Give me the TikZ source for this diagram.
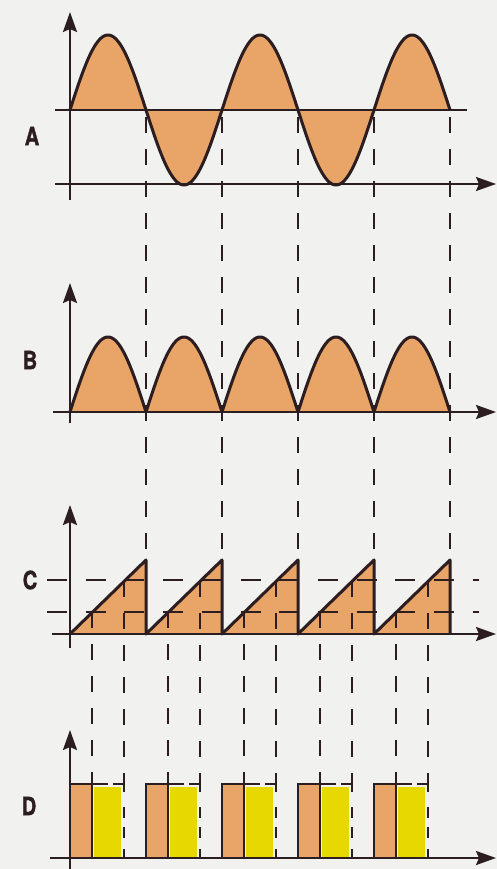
\documentclass[tikz,border=0pt]{standalone}
\usepackage{fontspec}
\newfontfamily\lab[BoldFeatures={FakeBold=1.6}]{TeX Gyre Heros}
\usetikzlibrary{arrows.meta}
\definecolor{bg}{HTML}{F1F1EF}
\definecolor{ink}{HTML}{2B1D20}
\definecolor{org}{HTML}{E9A467}
\definecolor{yel}{HTML}{E6D800}
\begin{document}
\begin{tikzpicture}[x=1pt,y=-1pt,
 axis/.style={ink, line width=2.2pt},
 arr/.style={axis, -{Stealth[length=20pt,width=14pt,inset=3pt]}},
 curve/.style={ink, line width=3pt, line join=round},
 guide/.style={ink, line width=1.3pt, dash pattern=on 16pt off 16pt},
 thr/.style={ink, line width=1.3pt, dash pattern=on 20pt off 18.7pt},
 boxline/.style={ink, line width=2.5pt},
 letter/.style={font=\lab\bfseries\fontsize{25}{25}\selectfont, text=ink, xscale=0.8, inner sep=0pt}]
\fill[bg] (0,0) rectangle (497,869);
\useasboundingbox (0,0) rectangle (497,869);

% ---------- Panel A ----------
\fill[org] (70,110) -- plot[domain=70:450,samples=381] (\x,{110-75*sin((\x-70)/76*180)}) -- cycle;
\foreach \k in {0,...,4}{
  \draw[guide] ({146+76*\k},117) -- ({146+76*\k},560);
}
\draw[curve] plot[domain=70:450,samples=381] (\x,{110-75*sin((\x-70)/76*180)});
\draw[axis] (55,110) -- (467,110);
\draw[arr] (55,184) -- (496,184);
\draw[arr] (70,200) -- (70,12);
\node[letter] (la) at (32,136) {A};

% ---------- Panel B ----------
\fill[org] (70,412) -- plot[domain=70:450,samples=381] (\x,{412-75*abs(sin((\x-70)/76*180))}) -- cycle;
\draw[curve] plot[domain=70:450,samples=381] (\x,{412-75*abs(sin((\x-70)/76*180))});
\draw[arr] (53,412) -- (496,412);
\draw[arr] (70,423) -- (70,283);
\node[letter] (lb) at (30,360) {B};

% ---------- Panel C ----------
\foreach \k in {0,...,4}{
  \pgfmathsetmacro{\xo}{70+76*\k}
  \fill[org] (\xo,634) -- ({\xo+76},560) -- ({\xo+76},634) -- cycle;
}
\draw[thr] (47,580) -- (479,580);
\draw[thr] (47,612) -- (479,612);
\foreach \k in {0,...,4}{
  \pgfmathsetmacro{\xo}{70+76*\k}
  \draw[guide] ({\xo+22},612) -- ({\xo+22},784);
  \draw[guide] ({\xo+54},581) -- ({\xo+54},784);
}
\draw[curve] (70,634) -- (146,560) -- (146,634) -- (222,560) -- (222,634)
  -- (298,560) -- (298,634) -- (374,560) -- (374,634) -- (450,560) -- (450,634);
\draw[arr] (52,634) -- (496,634);
\draw[arr] (70,648) -- (70,505);
\node[letter] (lc) at (30,580) {C};

% ---------- Panel D ----------
\foreach \k in {0,...,4}{
  \pgfmathsetmacro{\xo}{70+76*\k}
  \fill[org] (\xo,784) rectangle ({\xo+22},858);
  \fill[yel] ({\xo+24},787) rectangle ({\xo+51},857);
  \draw[boxline] (\xo,858) -- (\xo,784) -- ({\xo+22},784) -- ({\xo+22},858);
  \draw[boxline, dash pattern=on 9pt off 11pt on 11pt off 9pt on 11pt off 15pt on 19pt off 5pt on 20pt]
    ({\xo+54},858) -- ({\xo+54},784) -- ({\xo+22},784);
}
\draw[arr] (50,858) -- (496,858);
\draw[arr] (70,869) -- (70,730);
\node[letter] (ld) at (29,806) {D};
\end{tikzpicture}
\end{document}
